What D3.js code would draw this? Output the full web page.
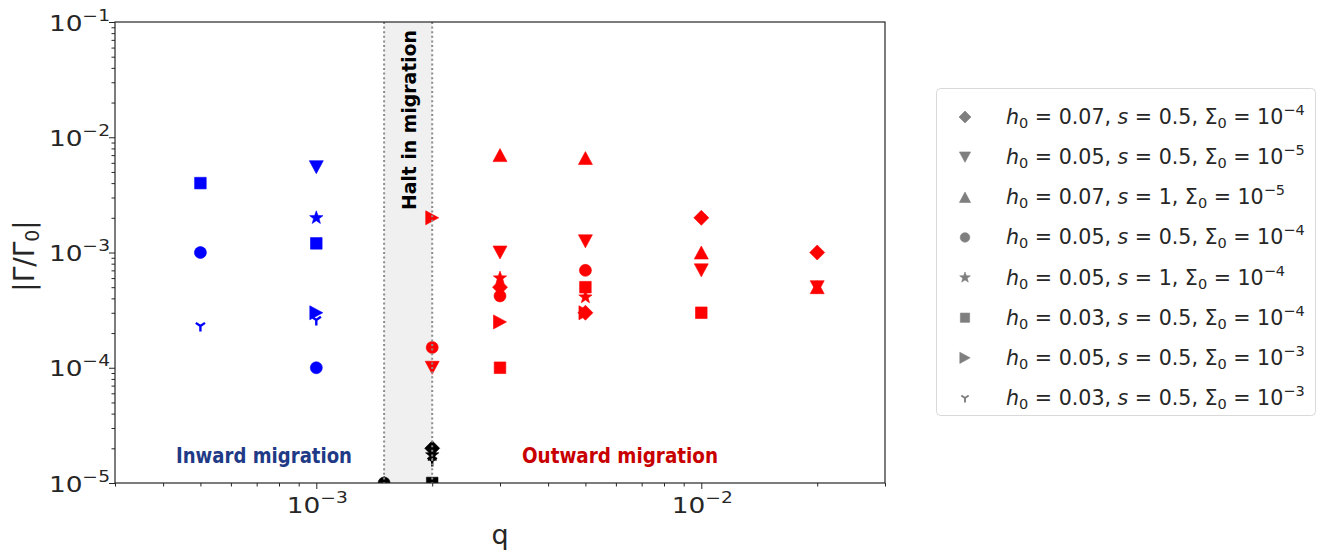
<!DOCTYPE html>
<html>
<head>
<meta charset="utf-8">
<script src="https://cdn.jsdelivr.net/npm/d3@7"></script>
<style>
  body { margin: 0; background: #fff; }
  text { font-family: "DejaVu Sans", sans-serif; }
</style>
</head>
<body>
<svg id="chart" width="1322" height="553"></svg>
<script>
// ---- data -------------------------------------------------------------
// Marker shapes, one per disc parameter set (legend order)
const markerTypes = ["diamond", "triDown", "triUp", "circle", "star", "square", "triRight", "tri1"];
const legendH0    = ["0.07", "0.05", "0.07", "0.05", "0.05", "0.03", "0.05", "0.03"];
const legendS     = ["0.5", "0.5", "1", "0.5", "1", "0.5", "0.5", "0.5"];
const legendSigmaExp = ["\u22124", "\u22125", "\u22125", "\u22124", "\u22124", "\u22124", "\u22123", "\u22123"];

// Inward migration (blue): planet mass ratio q, marker, |Γ/Γ0|
const inwardQ      = [5e-4, 5e-4, 5e-4, 1e-3, 1e-3, 1e-3, 1e-3, 1e-3, 1e-3];
const inwardMarker = ["square", "circle", "tri1", "triDown", "star", "square", "triRight", "tri1", "circle"];
const inwardGamma  = [4.0e-3, 1.0e-3, 2.3e-4, 5.5e-3, 2.0e-3, 1.2e-3, 3.0e-4, 2.6e-4, 1.0e-4];

// Outward migration (red)
const outwardQ      = [2e-3, 2e-3, 2e-3,
                       3e-3, 3e-3, 3e-3, 3e-3, 3e-3, 3e-3, 3e-3,
                       5e-3, 5e-3, 5e-3, 5e-3, 5e-3, 5e-3, 5e-3,
                       1e-2, 1e-2, 1e-2, 1e-2,
                       2e-2, 2e-2, 2e-2];
const outwardMarker = ["triRight", "circle", "triDown",
                       "triUp", "triDown", "star", "diamond", "circle", "triRight", "square",
                       "triUp", "triDown", "circle", "square", "star", "diamond", "triRight",
                       "diamond", "triUp", "triDown", "square",
                       "diamond", "triUp", "triDown"];
const outwardGamma  = [2.0e-3, 1.5e-4, 1.0e-4,
                       7.0e-3, 1.0e-3, 6.0e-4, 5.0e-4, 4.2e-4, 2.5e-4, 1.0e-4,
                       6.6e-3, 1.25e-3, 7.0e-4, 5.0e-4, 4.1e-4, 3.0e-4, 3.0e-4,
                       2.0e-3, 1.0e-3, 7.0e-4, 3.0e-4,
                       1.0e-3, 5.0e-4, 5.0e-4];

// Halted migration (black)
const haltQ      = [1.5e-3, 1.5e-3, 2e-3, 2e-3, 2e-3, 2e-3];
const haltMarker = ["triUp", "circle", "square", "tri1", "star", "diamond"];
const haltGamma  = [1.0e-5, 1.0e-5, 1.0e-5, 1.55e-5, 1.75e-5, 2.0e-5];

// Halt band edges in q
const haltBand = [1.5e-3, 2e-3];

// Axis ticks
const xMajor = [1e-3, 1e-2];
const xMajorExp = ["\u22123", "\u22122"];
const yMajor = [1e-5, 1e-4, 1e-3, 1e-2, 1e-1];
const yMajorExp = ["\u22125", "\u22124", "\u22123", "\u22122", "\u22121"];

// ---- layout -----------------------------------------------------------
const svg = d3.select("#chart");
const plot = { left: 115, right: 885, top: 22, bottom: 483 };

const x = d3.scaleLog().domain([3e-4, 3e-2]).range([plot.left, plot.right]);
const y = d3.scaleLog().domain([1e-5, 1e-1]).range([plot.bottom, plot.top]);

const minorTicks = (domain) => {
  const out = [];
  for (let e = -6; e <= 0; e++) {
    for (let m = 2; m <= 9; m++) {
      const v = m * Math.pow(10, e);
      if (v >= domain[0] * 0.999 && v <= domain[1] * 1.001) out.push(v);
    }
  }
  return out;
};

// marker geometry (pixel units, scaled by k)
function markerPath(type, k) {
  const p = (v) => (v * k).toFixed(2);
  switch (type) {
    case "diamond":
      return `M0,${p(-7.5)}L${p(7.5)},0L0,${p(7.5)}L${p(-7.5)},0Z`;
    case "triDown":
      return `M${p(-7)},${p(-6.5)}L${p(7)},${p(-6.5)}L0,${p(6.5)}Z`;
    case "triUp":
      return `M0,${p(-6.5)}L${p(7)},${p(6.5)}L${p(-7)},${p(6.5)}Z`;
    case "triRight":
      return `M${p(-6.5)},${p(-7)}L${p(6.5)},0L${p(-6.5)},${p(7)}Z`;
    case "square":
      return `M${p(-5.8)},${p(-5.8)}H${p(5.8)}V${p(5.8)}H${p(-5.8)}Z`;
    case "circle": {
      const r = 6 * k;
      return `M${r},0A${r},${r} 0 1,1 ${-r},0A${r},${r} 0 1,1 ${r},0Z`;
    }
    case "star": {
      let d = "";
      for (let i = 0; i < 10; i++) {
        const r = (i % 2 === 0 ? 7 : 2.9) * k;
        const a = -Math.PI / 2 + i * Math.PI / 5;
        d += (i === 0 ? "M" : "L") + (r * Math.cos(a)).toFixed(2) + "," + (r * Math.sin(a)).toFixed(2);
      }
      return d + "Z";
    }
    case "tri1":
      return `M0,0L0,${p(5.5)}M0,0L${p(-4.6)},${p(-3.2)}M0,0L${p(4.6)},${p(-3.2)}`;
  }
  return "";
}

function drawMarker(sel, type, color, k) {
  const path = sel.append("path").attr("d", markerPath(type, k));
  if (type === "tri1") {
    path.attr("fill", "none").attr("stroke", color).attr("stroke-width", 2.4 * k).attr("stroke-linecap", "butt");
  } else {
    path.attr("fill", color).attr("stroke", color).attr("stroke-width", 0.6);
  }
  return path;
}

// ---- plot area --------------------------------------------------------
svg.append("defs").append("clipPath").attr("id", "plotClip")
  .append("rect")
  .attr("x", plot.left).attr("y", plot.top)
  .attr("width", plot.right - plot.left).attr("height", plot.bottom - plot.top);

// shaded halt band
svg.append("rect")
  .attr("x", x(haltBand[0])).attr("y", plot.top)
  .attr("width", x(haltBand[1]) - x(haltBand[0]))
  .attr("height", plot.bottom - plot.top)
  .attr("fill", "#f0f0f0");

const marks = svg.append("g").attr("clip-path", "url(#plotClip)");

function plotSeries(qs, types, vals, color) {
  qs.forEach((q, i) => {
    const g = marks.append("g").attr("transform", `translate(${x(q)},${y(vals[i])})`);
    drawMarker(g, types[i], color, 1);
  });
}
plotSeries(inwardQ, inwardMarker, inwardGamma, "#0000ff");
plotSeries(outwardQ, outwardMarker, outwardGamma, "#ff0000");
plotSeries(haltQ, haltMarker, haltGamma, "#000000");

// dotted band edges
svg.selectAll("line.band")
  .data(haltBand)
  .join("line")
  .attr("class", "band")
  .attr("x1", d => x(d)).attr("x2", d => x(d))
  .attr("y1", plot.top).attr("y2", plot.bottom)
  .attr("stroke", "#8c8c8c")
  .attr("stroke-width", 2)
  .attr("stroke-dasharray", "2,2.6");

// ---- axes -------------------------------------------------------------
const axisColor = "#262626";
const styleAxis = (g) => {
  g.select(".domain").remove();
  g.selectAll(".tick line").attr("stroke", axisColor).attr("stroke-width", 1);
  g.selectAll(".tick text").remove();
};

svg.append("g").attr("transform", `translate(0,${plot.bottom})`)
  .call(d3.axisBottom(x).tickValues(xMajor).tickSize(6).tickFormat(""))
  .call(styleAxis);
svg.append("g").attr("transform", `translate(0,${plot.bottom})`)
  .call(d3.axisBottom(x).tickValues(minorTicks(x.domain())).tickSize(3.5).tickFormat(""))
  .call(styleAxis);
svg.append("g").attr("transform", `translate(${plot.left},0)`)
  .call(d3.axisLeft(y).tickValues(yMajor).tickSize(6).tickFormat(""))
  .call(styleAxis);
svg.append("g").attr("transform", `translate(${plot.left},0)`)
  .call(d3.axisLeft(y).tickValues(minorTicks(y.domain())).tickSize(3.5).tickFormat(""))
  .call(styleAxis);

// frame
svg.append("rect")
  .attr("x", plot.left).attr("y", plot.top)
  .attr("width", plot.right - plot.left).attr("height", plot.bottom - plot.top)
  .attr("fill", "none").attr("stroke", axisColor).attr("stroke-width", 1.2);

// power-of-ten tick labels (slightly widened glyphs)
function powerLabel(sel, exp) {
  sel.append("tspan").text("10");
  sel.append("tspan").attr("dy", -10).attr("font-size", 15.5).text(exp);
}
yMajor.forEach((v, i) => {
  const t = svg.append("text")
    .attr("transform", `translate(110,${y(v) + 8.5}) scale(1.2,1)`)
    .attr("text-anchor", "end")
    .attr("font-size", 22).attr("fill", "#262626");
  powerLabel(t, yMajorExp[i]);
});
xMajor.forEach((v, i) => {
  const t = svg.append("text")
    .attr("transform", `translate(${x(v) + 1},513) scale(1.2,1)`)
    .attr("text-anchor", "middle")
    .attr("font-size", 22).attr("fill", "#262626");
  powerLabel(t, xMajorExp[i]);
});

// axis titles
svg.append("text")
  .attr("x", 500).attr("y", 544)
  .attr("text-anchor", "middle")
  .attr("font-size", 27).attr("fill", "#262626")
  .text("q");

const yTitle = svg.append("text")
  .attr("transform", "translate(34,256) rotate(-90)")
  .attr("text-anchor", "middle")
  .attr("font-size", 28).attr("fill", "#262626");
yTitle.append("tspan").text("|\u0393/\u0393");
yTitle.append("tspan").attr("font-size", 19).attr("dy", 5).text("0");
yTitle.append("tspan").attr("dy", -5).text("|");

// ---- annotations ------------------------------------------------------
const annoFont = "Lato, 'Open Sans', sans-serif";
svg.append("text")
  .attr("x", 176).attr("y", 463)
  .attr("font-family", annoFont)
  .attr("font-weight", "bold").attr("font-size", 21)
  .attr("textLength", 176).attr("lengthAdjust", "spacingAndGlyphs")
  .attr("fill", "#1f3a86")
  .text("Inward migration");

svg.append("text")
  .attr("x", 522).attr("y", 463)
  .attr("font-family", annoFont)
  .attr("font-weight", "bold").attr("font-size", 21)
  .attr("textLength", 196).attr("lengthAdjust", "spacingAndGlyphs")
  .attr("fill", "#c80000")
  .text("Outward migration");

svg.append("text")
  .attr("transform", `translate(${(x(haltBand[0]) + x(haltBand[1])) / 2 + 7.5},210) rotate(-90)`)
  .attr("font-family", annoFont)
  .attr("font-weight", "bold").attr("font-size", 20)
  .attr("textLength", 180).attr("lengthAdjust", "spacingAndGlyphs")
  .attr("fill", "#000")
  .text("Halt in migration");

// ---- legend -----------------------------------------------------------
const legend = svg.append("g");
legend.append("rect")
  .attr("x", 936.5).attr("y", 88.5)
  .attr("width", 379).attr("height", 327)
  .attr("rx", 4)
  .attr("fill", "#fff").attr("stroke", "#d9d9d9").attr("stroke-width", 1);

const rowY = d3.scaleLinear().domain([0, markerTypes.length - 1]).range([117, 398]);
markerTypes.forEach((type, i) => {
  const yy = rowY(i);
  const g = legend.append("g").attr("transform", `translate(965,${yy})`);
  drawMarker(g, type, "#7f7f7f", 0.8);

  const t = legend.append("text")
    .attr("x", 1006).attr("y", yy + 7)
    .attr("font-size", 20.6).attr("fill", "#262626");
  t.append("tspan").attr("font-style", "italic").text("h");
  t.append("tspan").attr("font-size", 14.5).attr("dy", 4).text("0");
  t.append("tspan").attr("dy", -4).text(` = ${legendH0[i]}, `);
  t.append("tspan").attr("font-style", "italic").text("s");
  t.append("tspan").text(` = ${legendS[i]}, \u03A3`);
  t.append("tspan").attr("font-size", 14.5).attr("dy", 4).text("0");
  t.append("tspan").attr("dy", -4).text(" = 10");
  t.append("tspan").attr("font-size", 14.5).attr("dy", -9).text(legendSigmaExp[i]);
});
</script>
</body>
</html>
